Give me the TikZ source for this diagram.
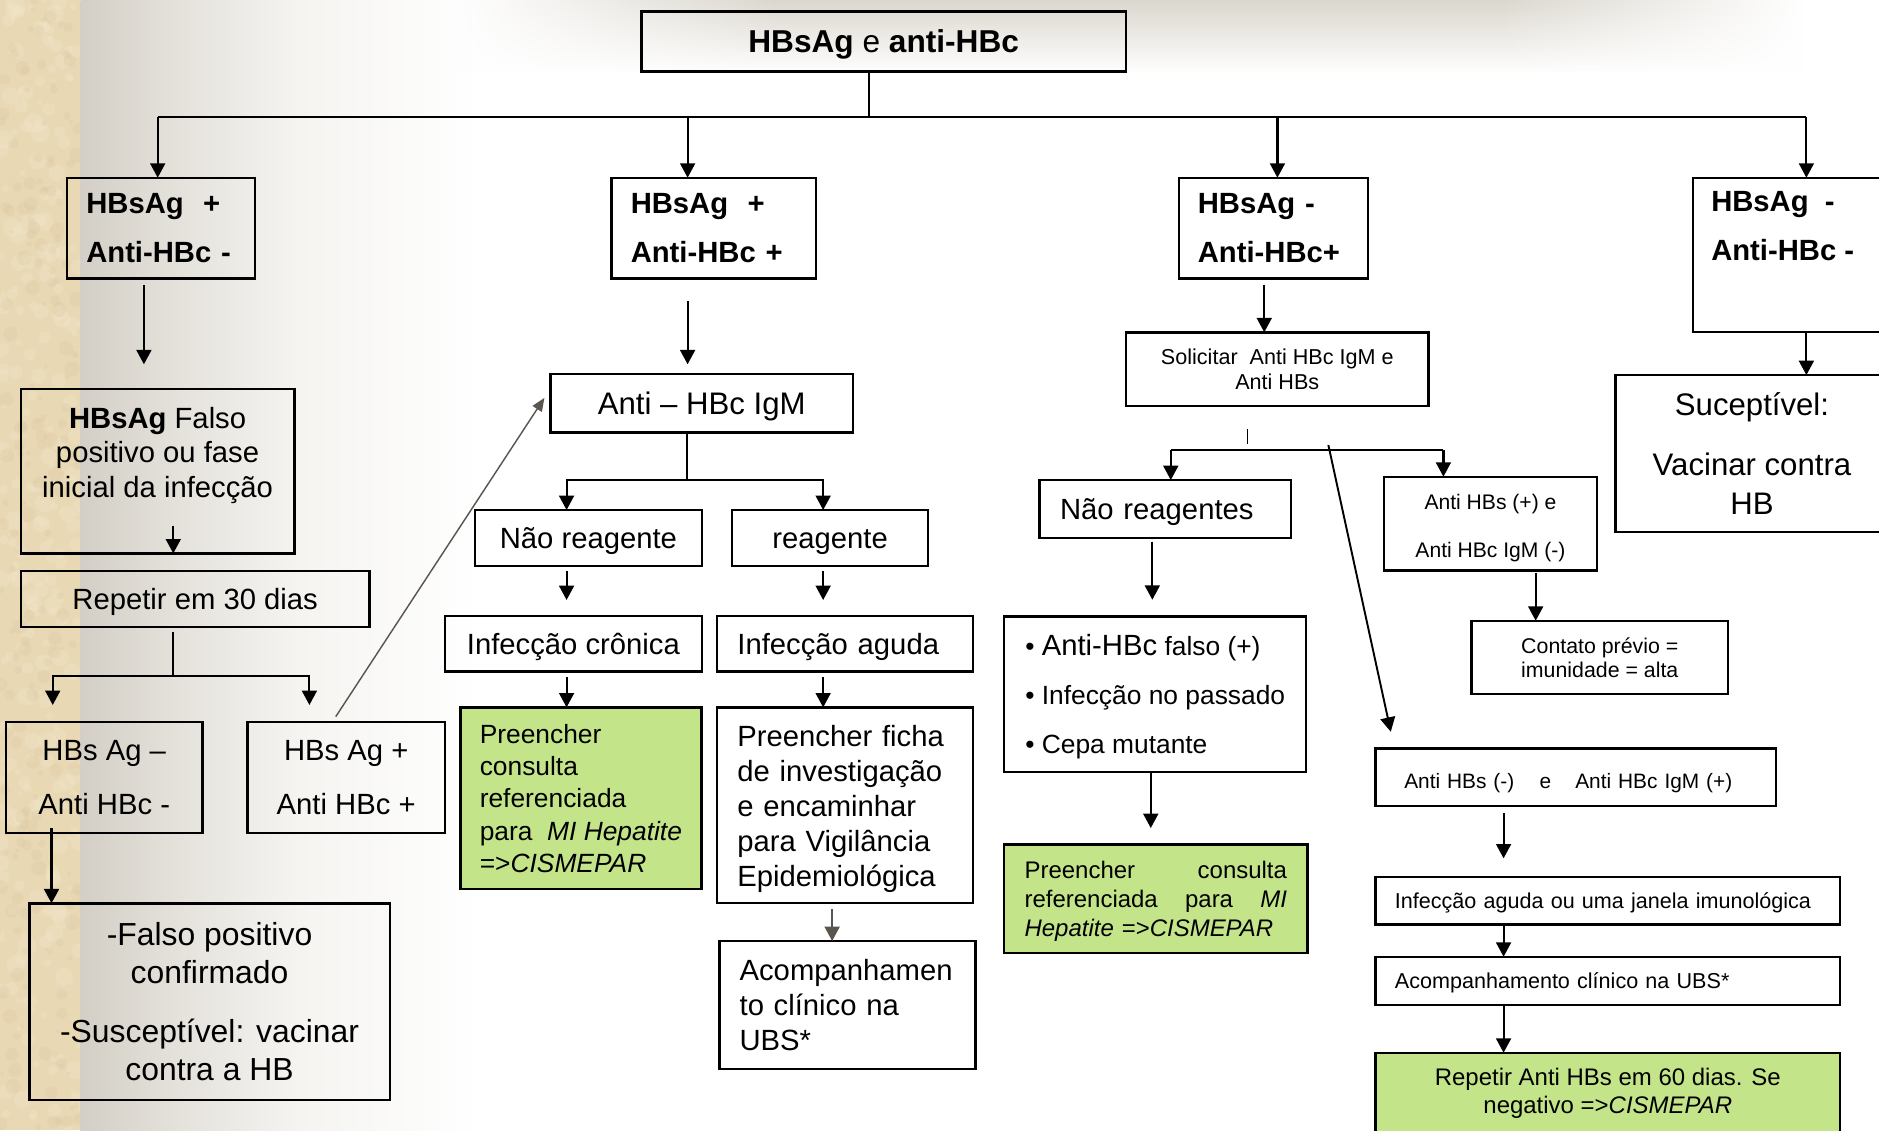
\documentclass[tikz,border=0pt]{standalone}
\usepackage{fontspec}
\setmainfont{Liberation Sans}
\usetikzlibrary{arrows.meta,fadings}
\hyphenpenalty=10000
\exhyphenpenalty=10000
\definecolor{beige}{RGB}{232,216,180}
\definecolor{beigeL}{RGB}{244,233,206}
\definecolor{beigeD}{RGB}{214,196,156}
\definecolor{lg0}{RGB}{211,207,198}
\definecolor{lg1}{RGB}{229,226,220}
\definecolor{lg2}{RGB}{245,244,241}
\definecolor{topgray}{RGB}{219,215,206}
\definecolor{greenbox}{RGB}{196,228,138}
\definecolor{arrgray}{RGB}{90,85,79}
\tikzfading[name=fadeRight, left color=transparent!0, right color=transparent!100]
\tikzfading[name=fadeLeft, left color=transparent!100, right color=transparent!0]
\newcommand\fsz[2]{\fontsize{#1}{#2}\selectfont}
% invisible strut giving a first line extra height
\newcommand\upt[1]{\rule{0pt}{#1}}
% box from corners (x1,y1)-(x2,y2) in picture pixels
\newcommand\bx[7][]{%
  \pgfmathsetmacro\bxw{(#4-#2)*0.5}%
  \pgfmathsetmacro\bxh{(#5-#3)*0.5}%
  \pgfmathsetmacro\bxx{(#2+#4)/2}%
  \pgfmathsetmacro\bxy{(#3+#5)/2}%
  \node[box, minimum width=\bxw pt, minimum height=\bxh pt, #1] (#6) at (\bxx,\bxy) {#7};%
}
\tikzset{
  box/.style={draw=black, line width=1pt, inner sep=0pt, outer sep=0pt},
  gbox/.style={box, fill=greenbox},
  ln/.style={draw=black, line width=0.9pt},
  arr/.style={ln, -{Triangle[length=6pt,width=6.2pt]}},
  garr/.style={draw=arrgray, line width=0.9pt, -{Triangle[length=6pt,width=6.2pt]}},
  darr/.style={draw=arrgray, line width=0.6pt, -{Triangle[length=5.5pt,width=4.5pt]}},
  txt/.style={inner sep=0pt, outer sep=0pt, align=center},
  hdr/.style={font=\fsz{12.2pt}{20.5pt}\bfseries},
  fb/.style={font=\fsz{12.2pt}{14.6pt}, text height=11.35pt, text depth=2.56pt},
  sl9/.style={font=\fsz{9pt}{11pt}, text height=8.37pt, text depth=1.89pt},
}
\begin{document}
\begin{tikzpicture}[x=0.5pt,y=-0.5pt]
\useasboundingbox (0,0) rectangle (1568,943);
\clip (0,0) rectangle (1568,943);
% ---------- background
\fill[white] (0,0) rectangle (1568,943);
\fill[beige] (0,0) rectangle (67,943);
\begin{scope}
  \clip (0,0) rectangle (67,943);
  \pgfmathsetseed{11}
  \foreach \i in {1,...,260}{
    \pgfmathsetmacro{\xx}{rnd*67}
    \pgfmathsetmacro{\yy}{rnd*943}
    \pgfmathsetmacro{\rr}{2+rnd*6}
    \fill[beigeL, opacity=0.28] (\xx,\yy) circle[radius=\rr];
  }
  \foreach \i in {1,...,200}{
    \pgfmathsetmacro{\xx}{rnd*67}
    \pgfmathsetmacro{\yy}{rnd*943}
    \pgfmathsetmacro{\rr}{1.5+rnd*5}
    \fill[beigeD, opacity=0.22] (\xx,\yy) circle[radius=\rr];
  }
\end{scope}
\shade[left color=lg0, right color=lg1] (67,0) rectangle (150,943);
\shade[left color=lg1, right color=lg2] (150,0) rectangle (250,943);
\shade[left color=lg2, right color=white] (250,0) rectangle (400,943);
\shade[top color=topgray, bottom color=white] (650,0) rectangle (1250,62);
\shade[top color=topgray, bottom color=white, path fading=fadeRight] (1250,0) rectangle (1505,62);
\shade[top color=topgray, bottom color=white, path fading=fadeLeft] (380,0) rectangle (650,62);

% ---------- nodes
\bx[font=\fsz{13.2pt}{16pt}, text height=12.28pt, text depth=2.77pt]{535.3}{9.5}{939.5}{59.8}{root}{\textbf{HBsAg} e \textbf{anti-HBc}}

\bx[hdr, text width=62.5pt, align=left]{56}{148.3}{213}{232.3}{A}{HBsAg\ \ +\\Anti-HBc -}
\bx[hdr, text width=69.3pt, align=left]{510.3}{148.3}{681}{232.3}{B}{HBsAg\ \ +\\Anti-HBc +}
\bx[hdr, text width=63pt, align=left]{983.6}{148.3}{1141.6}{232.3}{C}{HBsAg -\\Anti-HBc+}
\bx{1413}{148.3}{1600}{276.8}{D}{}
\node[txt, anchor=west, hdr, align=left] (dtxt) at (1428,188.5) {HBsAg\ \ -\\Anti-HBc -};

% column A
\bx{17.5}{324.6}{245.7}{461.8}{fp}{}
\node[txt, font=\fsz{12.2pt}{14.5pt}] (fpt) at (131.5,380) {\textbf{HBsAg} Falso\\positivo ou fase\\inicial da infecção};
\bx[fb]{17.5}{476.5}{308.2}{523}{rep}{Repetir em 30 dias}
\bx[font=\fsz{12.2pt}{22.5pt}, align=center]{5}{602.3}{169}{695}{nega}{HBs Ag –\\Anti HBc -}
\bx[font=\fsz{12.2pt}{22.5pt}, align=center]{206.6}{602.3}{371.2}{695}{posa}{HBs Ag +\\Anti HBc +}
\bx[font=\fsz{13.3pt}{16pt}, align=center]{24.5}{753.8}{325.2}{918}{fpc}{-Falso positivo\\confirmado\\[8.5pt]-Susceptível: vacinar\\contra a HB}

% column B
\bx[font=\fsz{13pt}{15.6pt}, text height=12.1pt, text depth=2.73pt]{459.3}{312.1}{711.9}{361}{igm}{Anti – HBc IgM}
\bx[fb]{396.3}{425.6}{585.8}{472.1}{nr}{Não reagente}
\bx[fb]{610.9}{425.6}{774.5}{472.1}{rg}{reagente}
\bx[fb]{371.2}{514}{585.8}{560.5}{ic}{Infecção crônica}
\bx[fb, text width=89.8pt, align=left]{598.4}{514}{812}{560.5}{ia}{Infecção aguda}
\bx[gbox, font=\fsz{11pt}{13.5pt}, align=left]{384.2}{590.3}{585.3}{742}{gb}{Preencher\\consulta\\referenciada\\para\ \ \textit{MI Hepatite}\\=>\textit{CISMEPAR}}
\bx[font=\fsz{12.2pt}{14.6pt}, text width=89.8pt, align=left]{598.4}{590.3}{812}{753.3}{fic}{\upt{11.9pt}Preencher ficha\\de investigação\\e encaminhar\\para Vigilância\\Epidemiológica}
\bx[font=\fsz{12.2pt}{14.5pt}, text width=90pt, align=left]{600.4}{785.3}{814}{892}{acp}{Acompanhamen\\to clínico na\\UBS*}

% column C
\bx[font=\fsz{9pt}{10.5pt}, align=center]{939.5}{277.3}{1192.2}{338.8}{sol}{Solicitar\ \ Anti HBc IgM e\\Anti HBs}
\bx[fb, text width=87.7pt, align=left]{867.4}{400.6}{1077.3}{448.7}{nrs}{Não reagentes}
\bx[font=\fsz{8.8pt}{19.9pt}, align=center]{1155}{397.8}{1332.5}{476}{ahbp}{\upt{10pt}Anti HBs (+) e\\Anti HBc IgM (-)}
\bx[font=\fsz{11pt}{20.3pt}, align=left]{838}{514.6}{1090}{644}{bul}{\upt{10.9pt}\textbullet\ {\fontsize{12.2pt}{14pt}\selectfont Anti-HBc} falso (+)\\\textbullet\ Infecção no passado\\\textbullet\ Cepa mutante}
\bx[gbox, font=\fsz{10pt}{12pt}, text width=109.5pt, align=left]{838}{704.6}{1091}{795.5}{gc}{\upt{9.3pt}Preencher\hfill consulta\\referenciada\hfill para\hfill\textit{MI}\\\textit{Hepatite} =>\textit{CISMEPAR}}
\bx[font=\fsz{8.9pt}{10pt}, align=center]{1228}{518}{1442}{579}{cont}{Contato prévio =\\imunidade = alta}
\bx[font=\fsz{8.7pt}{10pt}, text width=143pt, align=left, text height=11.5pt, text depth=1.8pt]{1147.7}{624.5}{1482}{672.6}{ahbm}{Anti HBs (-)\hspace{10.6pt}e\hspace{10pt}Anti HBc IgM (+)}
\bx[sl9, text width=177.6pt, align=left]{1147.7}{731.6}{1535.6}{771.4}{iaj}{Infecção aguda ou uma janela imunológica}
\bx[sl9, text width=177.6pt, align=left]{1147.7}{798.4}{1535.6}{838.7}{acs}{Acompanhamento clínico na UBS*}
\bx[gbox, font=\fsz{10pt}{12pt}, align=center]{1147.7}{878.5}{1535.6}{946}{rp}{Repetir Anti HBs em 60 dias. Se\\negativo =>\textit{CISMEPAR}}

% column D
\bx[font=\fsz{13pt}{16pt}, align=center]{1348}{313}{1576}{443.7}{suc}{Suceptível:\\[9pt]Vacinar contra\\HB}

% ---------- connectors
\coordinate (tj) at (725,97.6);
\coordinate (hA) at (131.6,97.6);
\coordinate (hB) at (573.8,97.6);
\coordinate (hC) at (1066,97.6);
\coordinate (hD) at (1507.4,97.6);
\draw[ln] (tj |- root.south) -- (tj);
\draw[ln] (hA) -- (hD);
\draw[arr] (hA) -- (hA |- A.north);
\draw[arr] (hB) -- (hB |- B.north);
\draw[arr] (hC) -- (hC |- C.north);
\draw[arr] (hD) -- (hD |- D.north);

% column A
\coordinate (a1) at (120.1,237.8);
\coordinate (a2) at (120.1,304);
\draw[arr] (a1) -- (a2);
\coordinate (a3) at (144.6,438.7);
\draw[arr] (a3) -- (a3 |- fp.south);
\coordinate (a4) at (144.6,527);
\coordinate (a5) at (144.6,564.3);
\coordinate (a6) at (44,564.3);
\coordinate (a7) at (258.2,564.3);
\coordinate (a6e) at (44,588.3);
\coordinate (a7e) at (258.2,588.3);
\draw[ln] (a4) -- (a5);
\draw[arr] (a5) -- (a6) -- (a6e);
\draw[arr] (a5) -- (a7) -- (a7e);
\coordinate (a8) at (43,691);
\draw[arr] (a8) -- (a8 |- fpc.north);
\coordinate (g1) at (280.2,598);
\draw[darr] (g1) -- ([shift={(-5,-4.5)}]igm.west);

% column B
\coordinate (b1) at (573.8,251.2);
\coordinate (b2) at (573.8,304);
\draw[arr] (b1) -- (b2);
\coordinate (b3) at (573.3,400.6);
\coordinate (b4) at (472.8,400.6);
\coordinate (b5) at (686.9,400.6);
\draw[ln] (b3 |- igm.south) -- (b3);
\draw[arr] (b3) -- (b4) -- (b4 |- nr.north);
\draw[arr] (b3) -- (b5) -- (b5 |- rg.north);
\coordinate (b6) at (472.8,476.5);
\coordinate (b7) at (472.8,500.7);
\coordinate (b8) at (686.9,476.5);
\coordinate (b9) at (686.9,500.7);
\draw[arr] (b6) -- (b7);
\draw[arr] (b8) -- (b9);
\coordinate (b10) at (472.8,565.2);
\coordinate (b11) at (686.9,565.2);
\draw[arr] (b10) -- (b10 |- gb.north);
\draw[arr] (b11) -- (b11 |- fic.north);
\coordinate (b12) at (694.4,758.8);
\draw[garr] (b12) -- (b12 |- acp.north);

% column C
\coordinate (c1) at (1055,237.8);
\draw[arr] (c1) -- (c1 |- sol.north);
\coordinate (c2) at (1041,358);
\coordinate (c3) at (1041,370.6);
\draw[ln, line width=0.7pt] (c2) -- (c3);
\coordinate (c4) at (977,375.5);
\coordinate (c5) at (1204.5,375.5);
\draw[ln] (c4) -- (c5);
\draw[arr] (c4) -- (c4 |- nrs.north);
\draw[arr] (c5) -- (c5 |- ahbp.north);
\coordinate (c6) at (961.6,452);
\coordinate (c7) at (961.6,500.5);
\draw[arr] (c6) -- (c7);
\coordinate (c8) at (960.3,644);
\coordinate (c9) at (960.3,691);
\draw[arr] (c8) -- (c9);
\coordinate (c10) at (1281.5,478);
\draw[arr] (c10) -- (c10 |- cont.north);
\coordinate (c11) at (1108.5,371.4);
\coordinate (c12) at (1160.6,610.6);
\draw[arr, line width=0.8pt] (c11) -- (c12);
\coordinate (c13) at (1254.7,678.7);
\coordinate (c14) at (1254.7,716.3);
\draw[arr] (c13) -- (c14);
\draw[arr] (c13 |- iaj.south) -- (c13 |- acs.north);
\draw[arr] (c13 |- acs.south) -- (c13 |- rp.north);

% column D
\draw[arr] (hD |- D.south) -- (hD |- suc.north);
\end{tikzpicture}
\end{document}
